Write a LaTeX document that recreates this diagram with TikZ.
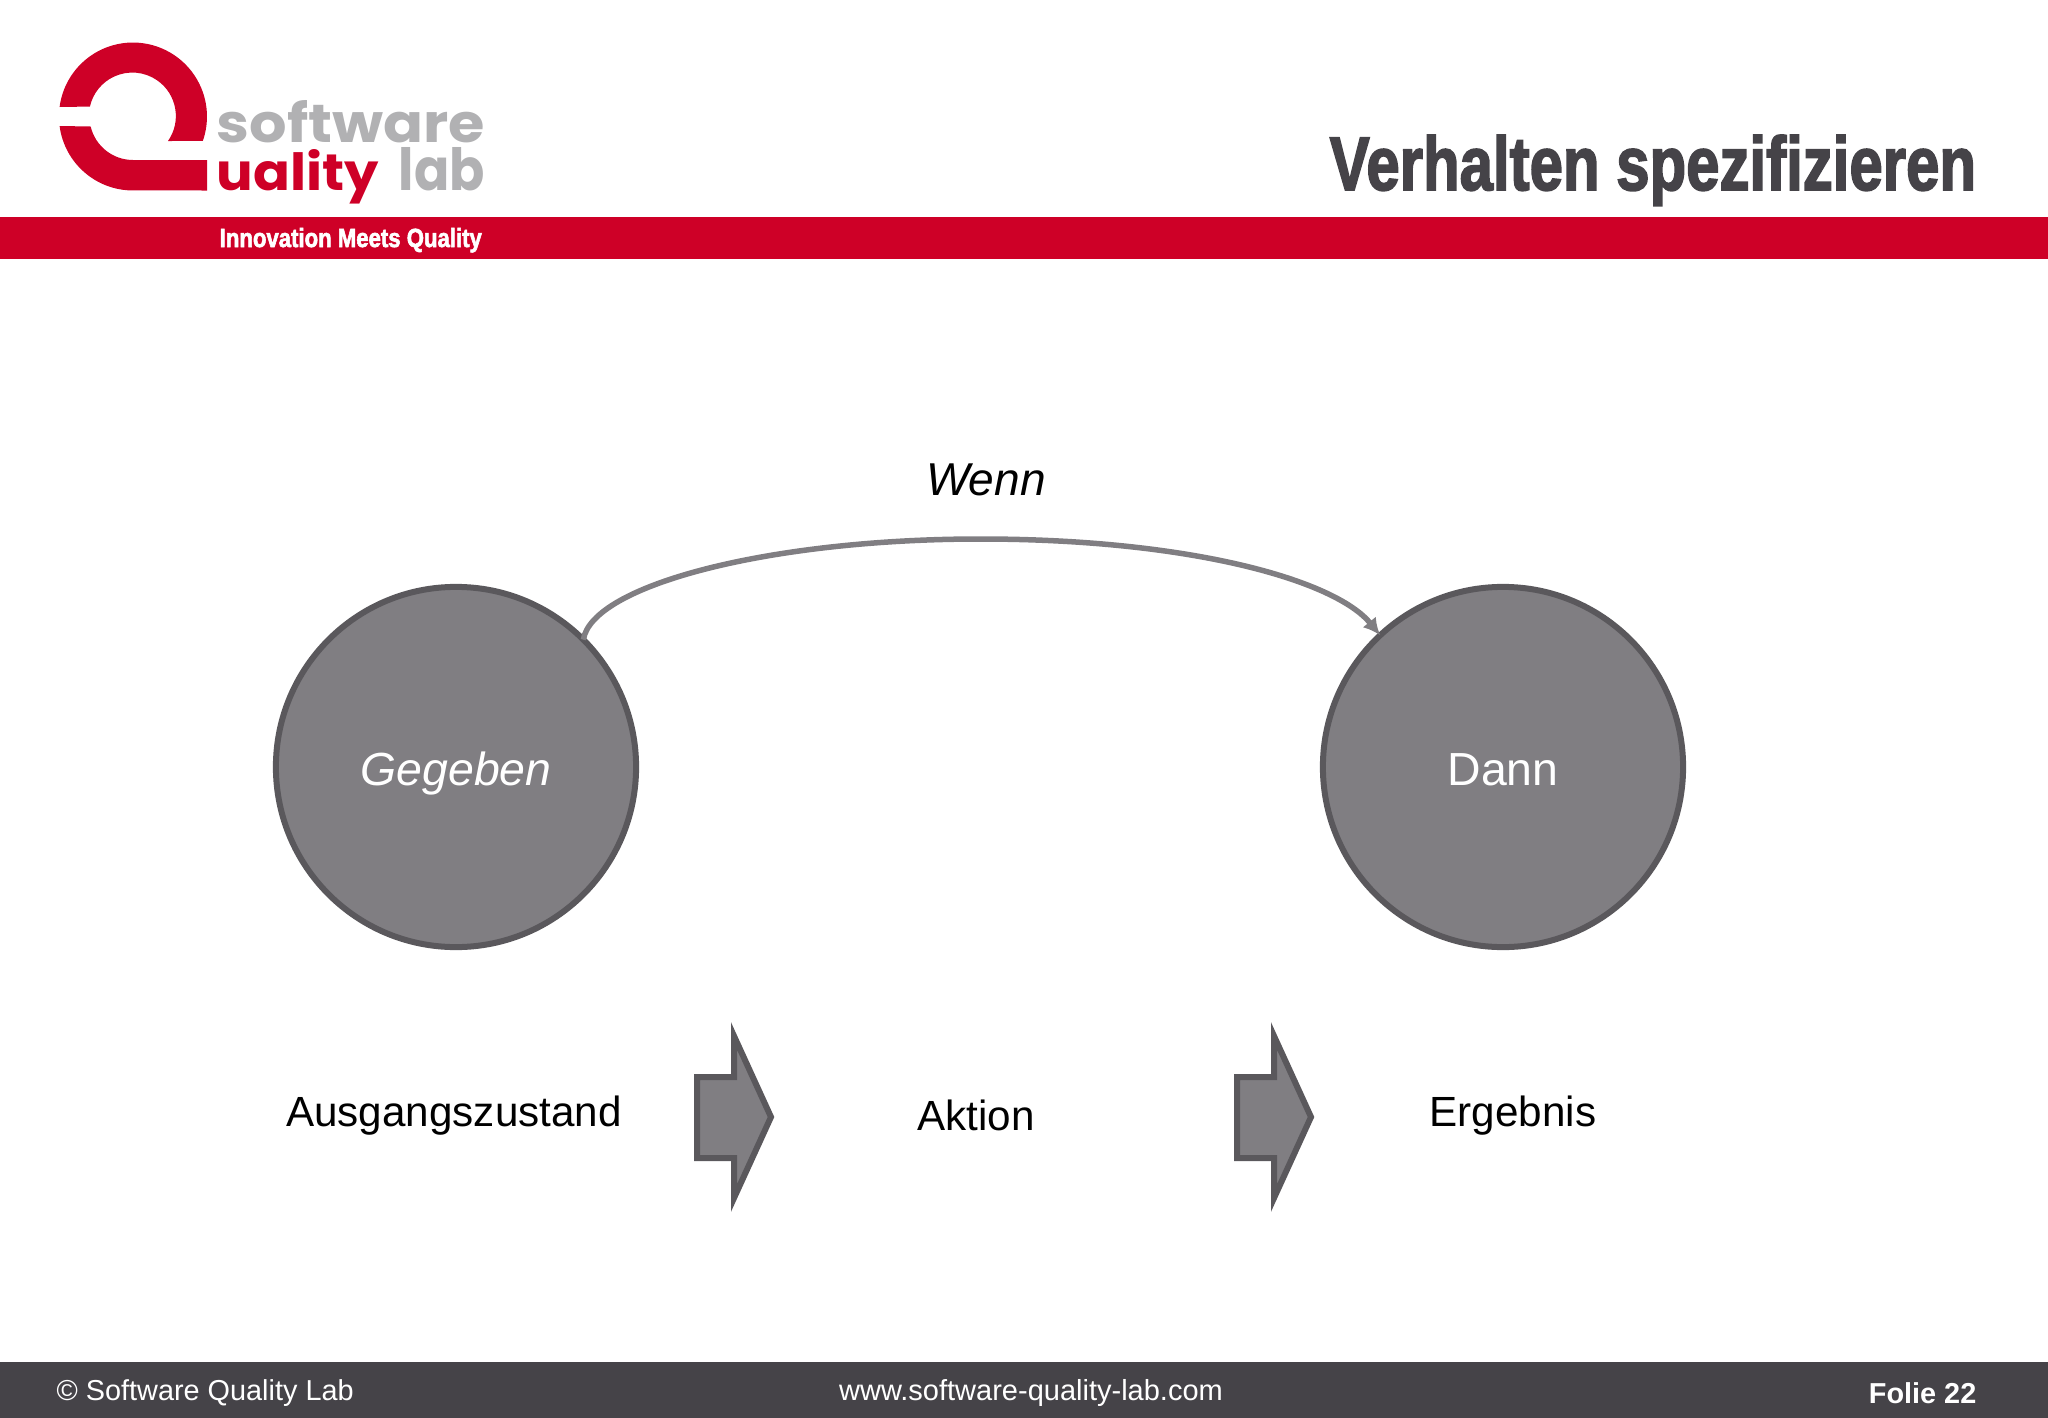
\documentclass[tikz,border=0pt]{standalone}
\usepackage{fontspec}
\setmainfont{Liberation Sans}
\newfontfamily\titlefont[FakeBold=2.5]{Liberation Sans}
\newfontfamily\logofont{Poppins}
\usetikzlibrary{arrows.meta}
\definecolor{slqred}{HTML}{CE0027}
\definecolor{slqgray}{HTML}{B1B1B3}
\definecolor{slqdark}{HTML}{454348}
\definecolor{shapefill}{HTML}{807E82}
\definecolor{shapeline}{HTML}{5A585C}

\begin{document}
\begin{tikzpicture}[
            x=0.01cm,
            y=-0.01cm,
            state/.style={
                circle, draw=shapeline, fill=shapefill, line width=0.06cm,
                minimum size=3.6cm, inner sep=0pt, outer sep=0pt,
                text height=0.40cm, text depth=0.026cm,
                text=white, font=\fontsize{13.2}{16}\selectfont
            },
            label/.style={
                font=\fontsize{12}{15}\selectfont, inner sep=0pt
            },
            foot/.style={
                text=white, font=\fontsize{8.2}{10}\selectfont, inner sep=0pt
            },
            logo/.style={
                inner sep=0pt, anchor=base west
            },
            flow/.style={
                draw=shapeline, fill=shapefill, line width=0.06cm, miter limit=10
            },
            link/.style={
                draw=shapefill, line width=0.055cm,
                -{Latex[length=0.17cm,width=0.17cm]}
            }
        ]
        \useasboundingbox (0,0) rectangle (2048,1418);

        % header
        \fill[slqred] (0,217) rectangle (2048,259);
        \fill[slqdark] (0,1362) rectangle (2048,1418);
        \fill[slqred] (59.6,107) arc[start angle=-172.6,end angle=19.3,radius=74]
            -- (168,141) arc[start angle=35,end angle=-167.4,radius=43.5] -- cycle;
        \fill[slqred] (59.6,126) arc[start angle=172.6,end angle=90,radius=74]
            -- (207,190.5) -- (207,160) -- (133,160)
            arc[start angle=90,end angle=166.7,radius=43.5] -- cycle;

        \node[logo,text=slqgray] (software) at (216,142)
            {\resizebox{2.68cm}{0.42cm}{\logofont\bfseries software}};
        \node[logo,text=slqred] (quality) at (216,190.7)
            {\resizebox{1.62cm}{0.41cm}{\logofont\bfseries uality}};
        \node[logo,text=slqgray] (lab) at (398,190.7)
            {\resizebox{0.86cm}{0.43cm}{\logofont\bfseries lab}};
        \node[logo,text=white] (claim) at (219,247)
            {\resizebox{2.62cm}{0.19cm}{\titlefont\bfseries Innovation Meets Quality}};
        \node[logo,text=slqdark] (title) at (1329,190)
            {\resizebox{6.46cm}{0.55cm}{\titlefont\bfseries Verhalten spezifizieren}};

        % states
        \node[state] (gegeben) at (456,767) {\itshape Gegeben};
        \node[state] (dann) at (1503,767) {Dann};
        \coordinate (wenntop) at (980,539);
        \draw[link] (gegeben.45) .. controls (592,585) and (770,539) .. (wenntop)
            .. controls (1190,539) and (1335,580) .. (dann.133);
        \node[label,font=\fontsize{13.1}{16}\selectfont\itshape] (wenn) at (986,480) {Wenn};

        % bottom row
        \node[label] (ausgang) at (454,1116) {Ausgangszustand};
        \node[label] (aktion) at (976,1115) {Aktion};
        \node[label] (ergebnis) at (1513,1116) {Ergebnis};
        \foreach \dx in {0,540} {
            \begin{scope}[shift={(\dx,0)}]
                \draw[flow] (697,1077) -- (734,1077) -- (734,1036) -- (771,1117)
                    -- (734,1198) -- (734,1158) -- (697,1158) -- cycle;
            \end{scope}
        }

        % footer
        \node[foot,anchor=west] (copy) at (56,1393) {© Software Quality Lab};
        \node[foot,font=\fontsize{8.25}{10}\selectfont] (web) at (1031,1393) {www.software-quality-lab.com};
        \node[foot,anchor=east,font=\fontsize{8.2}{10}\selectfont\bfseries] (folie) at (1977,1393) {Folie 22};
        \end{tikzpicture}
\end{document}
